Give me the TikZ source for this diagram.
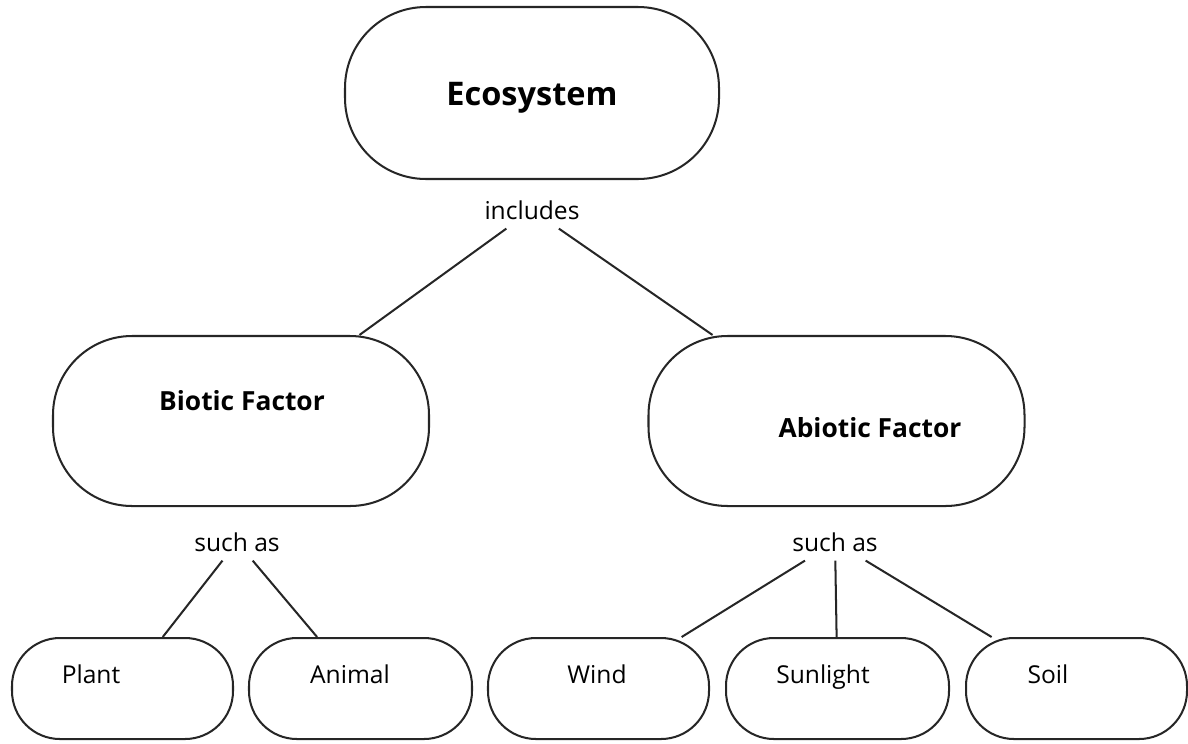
\documentclass[tikz,border=0pt]{standalone}
\usepackage{fontspec}
\setmainfont{Open Sans}
\usepackage{tikz}
\usetikzlibrary{positioning}

\begin{document}
\begin{tikzpicture}[
    bigbox/.style={draw=black!85, line width=1.15pt, rounded corners=1.62cm, minimum width=7.48cm, minimum height=3.44cm, inner sep=0},
    midbox/.style={draw=black!85, line width=1.15pt, rounded corners=1.58cm, minimum width=7.52cm, minimum height=3.4cm, inner sep=0},
    smallbox/.style={draw=black!85, line width=1.15pt, rounded corners=0.96cm, minimum width=4.42cm, minimum height=2.02cm, inner sep=0},
    boxtext/.style={anchor=base, font=\fontsize{14}{16}\selectfont},
    linktext/.style={font=\fontsize{14}{16}\selectfont, inner xsep=2.5pt, inner ysep=5pt},
    link/.style={draw=black!85, line width=1.15pt}
]
\useasboundingbox (0, 0) rectangle (23.76, -14.86);

\node[bigbox](eco) at (10.64, -1.86) {};
\node[boxtext, font=\bfseries\fontsize{18.5}{20}\selectfont](eco_t) at (10.64, -2.1) {Ecosystem};

\node[linktext](incl) at (10.64, -4.2) {includes};

\node[midbox](bio) at (4.82, -8.42) {};
\node[midbox](abio) at (16.73, -8.42) {};
\node[boxtext, font=\bfseries\fontsize{15}{17}\selectfont](bio_t) at (4.84, -8.2) {Biotic Factor};
\node[boxtext, font=\bfseries\fontsize{15}{17}\selectfont](abio_t) at (17.4, -8.74) {Abiotic Factor};

\node[linktext](such_1) at (4.74, -10.84) {such as};
\node[linktext](such_2) at (16.7, -10.84) {such as};

\node[smallbox](plant) at (2.45, -13.77) {};
\node[smallbox, minimum width=4.46cm](animal) at (7.21, -13.77) {};
\node[smallbox](wind) at (11.97, -13.77) {};
\node[smallbox, minimum width=4.46cm](sun) at (16.75, -13.77) {};
\node[smallbox](soil) at (21.53, -13.77) {};

\node[boxtext](plant_t) at (1.82, -13.66) {Plant};
\node[boxtext](animal_t) at (7.0, -13.66) {Animal};
\node[boxtext](wind_t) at (11.94, -13.66) {Wind};
\node[boxtext](sun_t) at (16.46, -13.66) {Sunlight};
\node[boxtext](soil_t) at (20.96, -13.66) {Soil};

\draw[link] (incl) -- (bio);
\draw[link] (incl) -- (abio);

\draw[link] (such_1) -- (plant);
\draw[link] (such_1) -- (animal);

\draw[link] (such_2) -- (wind);
\draw[link] (such_2) -- (sun);
\draw[link] (such_2) -- (soil);
\end{tikzpicture}
\end{document}
